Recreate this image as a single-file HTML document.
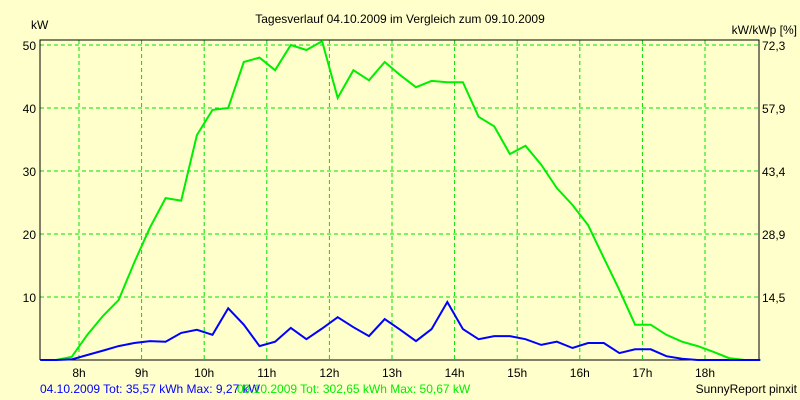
<!DOCTYPE html>
<html><head><meta charset="utf-8"><style>
body{margin:0;background:#FFFFCC;}
svg{display:block;font-family:"Liberation Sans",sans-serif;font-size:12px;}
</style></head><body>
<svg width="800" height="400">
<rect x="0" y="0" width="800" height="400" fill="#FFFFCC"/>
<text x="400" y="23" text-anchor="middle">Tagesverlauf 04.10.2009 im Vergleich zum 09.10.2009</text>
<text x="31" y="29">kW</text>
<text x="797" y="34" text-anchor="end">kW/kWp [%]</text>
<g id="grid"></g>
<g id="axes"></g>
<g id="series"></g>
<text x="40" y="393" fill="#0000FF">04.10.2009 Tot: 35,57 kWh Max: 9,27 kW</text>
<text x="237" y="393" fill="#00EE00">09.10.2009 Tot: 302,65 kWh Max: 50,67 kW</text>
<text x="797" y="393" text-anchor="end">SunnyReport pinxit</text>
</svg>
<script>
const yTicks=[10,20,30,40,50];
const yRightLabels=["14,5","28,9","43,4","57,9","72,3"];
const xHours=[8,9,10,11,12,13,14,15,16,17,18];
const green=[0,0,0.5,4,7,9.5,15.5,21,25.7,25.3,35.7,39.7,40,47.3,48,46,50,49.2,50.6,41.6,46,44.4,47.3,45.2,43.3,44.3,44.1,44.1,38.6,37.1,32.7,34,31,27.3,24.6,21.4,16.2,11.1,5.6,5.6,4,2.9,2.2,1.3,0.3,0,0];
const blue=[0,0,0.1,0.8,1.5,2.2,2.7,3,2.9,4.3,4.8,4,8.2,5.6,2.2,2.9,5.1,3.3,5,6.8,5.2,3.8,6.5,4.8,3,4.9,9.2,4.9,3.3,3.8,3.8,3.3,2.4,2.9,1.9,2.7,2.7,1.1,1.7,1.7,0.6,0.2,0,0,0,0,0];
const L=40,R=759,T=40,B=360;
const t0=7+23/60, step=0.25;
function X(h){return 79+(h-8)*62.6;}
function Y(v){return B-v*6.3;}
const NS="http://www.w3.org/2000/svg";
function mk(tag,attrs,parent){const e=document.createElementNS(NS,tag);for(const k in attrs)e.setAttribute(k,attrs[k]);parent.appendChild(e);return e;}
const grid=document.getElementById('grid'),axes=document.getElementById('axes'),series=document.getElementById('series');
yTicks.forEach((v,i)=>{
 const y=Y(v);
 const g=mk('line',{x1:L,x2:R,y1:y,y2:y,stroke:'#00E000','stroke-dasharray':'4,3'},grid);
 
 
 const t=mk('text',{x:36,y:y+5,'text-anchor':'end'},axes);t.textContent=v;
 
 
 const r=mk('text',{x:762,y:y+5},axes);r.textContent=yRightLabels[i];
 
 
});
xHours.forEach(h=>{
 const x=X(h);
 const g=mk('line',{x1:x,x2:x,y1:T,y2:B,stroke:'#00E000','stroke-dasharray':'4,3'},grid);
 
 
 const t=mk('text',{x:x,y:B+17,'text-anchor':'middle'},axes);t.textContent=h+'h';
 
 
});
const frame=mk('path',{d:`M${L},${B}V${T}H${R}V${B}`,fill:'none',stroke:'#000'},axes);


const base=mk('line',{x1:L,x2:R,y1:B,y2:B,stroke:'#000'},axes);


function draw(arr,color,name){
 const pts=arr.map((v,i)=>X(t0+i*step).toFixed(1)+','+Y(v).toFixed(1)).join(' ');
 const p=mk('polyline',{points:pts,fill:'none',stroke:color,'stroke-width':2},series);
 
 
}
draw(green,'#00EE00','series-09-10-2009');
draw(blue,'#0000FF','series-04-10-2009');
</script>
</body></html>
